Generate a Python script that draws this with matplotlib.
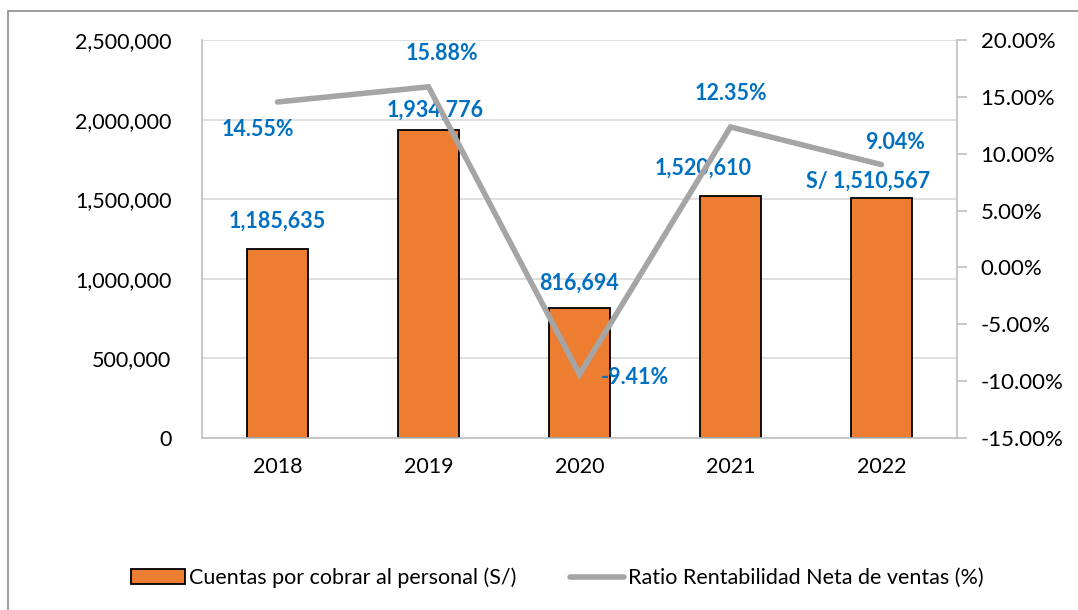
import matplotlib.pyplot as plt
from matplotlib.patches import Rectangle
from matplotlib.ticker import FuncFormatter

plt.rcParams['font.family'] = ['Lato', 'DejaVu Sans']

# data
years = ['2018', '2019', '2020', '2021', '2022']
cuentas = [1185635, 1934776, 816694, 1520610, 1510567]
ratio = [14.55, 15.88, -9.41, 12.35, 9.04]
bar_labels = ['1,185,635', '1,934,776', '816,694', '1,520,610', 'S/ 1,510,567']
ratio_labels = ['14.55%', '15.88%', '-9.41%', '12.35%', '9.04%']

# label offsets in points (dx, dy)
bar_off = [(0, 20), (5, 14), (0, 18), (-20, 20), (-10, 12)]
ratio_off = [(-14, -20), (10, 24), (40, -2), (0, 24), (10, 16)]

blue = '#0070C0'
gray = '#A5A5A5'
orange = '#ED7D31'

fig = plt.figure(figsize=(10.78, 6.10), dpi=100)
fig.patches.append(Rectangle((8 / 1078, -0.1), 1.2, 1.1 - 11 / 610,
                             transform=fig.transFigure, fill=False,
                             edgecolor='#8c8c8c', linewidth=1.2))

ax1 = fig.add_axes([202 / 1078, 1 - 438 / 610, 755 / 1078, 398 / 610])
x = range(len(years))
ax1.bar(x, cuentas, width=0.4, color=orange, edgecolor='black', linewidth=1.3,
        zorder=2, label='Cuentas por cobrar al personal (S/)')
ax1.set_ylim(0, 2500000)
ax1.set_xlim(-0.5, 4.5)
ax1.set_yticks(range(0, 2500001, 500000))
ax1.yaxis.set_major_formatter(FuncFormatter(lambda v, p: f'{int(v):,}'))
ax1.set_xticks(list(x))
ax1.set_xticklabels(years)
ax1.grid(axis='y', color='#d9d9d9', linewidth=1.2, zorder=0)
ax1.set_axisbelow(True)
ax1.tick_params(axis='both', length=0, labelsize=15.5, pad=14)
ax1.tick_params(axis='y', pad=22)
for s in ['top', 'right']:
    ax1.spines[s].set_visible(False)
for s in ['left', 'bottom']:
    ax1.spines[s].set_color('#bfbfbf')
    ax1.spines[s].set_linewidth(1.2)

ax2 = ax1.twinx()
ax2.plot(x, ratio, color=gray, linewidth=4, solid_capstyle='round',
         solid_joinstyle='miter', zorder=3,
         label='Ratio Rentabilidad Neta de ventas (%)')
ax2.set_ylim(-15, 20)
ax2.set_yticks(range(-15, 21, 5))
ax2.yaxis.set_major_formatter(FuncFormatter(lambda v, p: f'{v:.2f}%'))
ax2.tick_params(axis='y', length=7, width=1.2, color='#bfbfbf', labelsize=16, pad=10)
for s in ['top', 'left', 'bottom']:
    ax2.spines[s].set_visible(False)
ax2.spines['right'].set_color('#bfbfbf')
ax2.spines['right'].set_linewidth(1.2)

for i in x:
    ax1.annotate(bar_labels[i], (i, cuentas[i]), xytext=bar_off[i],
                 textcoords='offset points', ha='center', va='center',
                 color=blue, fontsize=15.5, fontweight='bold', zorder=5)
    ax2.annotate(ratio_labels[i], (i, ratio[i]), xytext=ratio_off[i],
                 textcoords='offset points', ha='center', va='center',
                 color=blue, fontsize=15.5, fontweight='bold', zorder=5)

h1, l1 = ax1.get_legend_handles_labels()
h2, l2 = ax2.get_legend_handles_labels()
fig.legend(h1 + h2, l1 + l2, loc='center', bbox_to_anchor=(0.517, 1 - 578 / 610),
           ncol=2, frameon=False, fontsize=15.5, handlelength=2.5,
           handletextpad=0.2, columnspacing=2.5)

fig.savefig('out.png', dpi=100)
